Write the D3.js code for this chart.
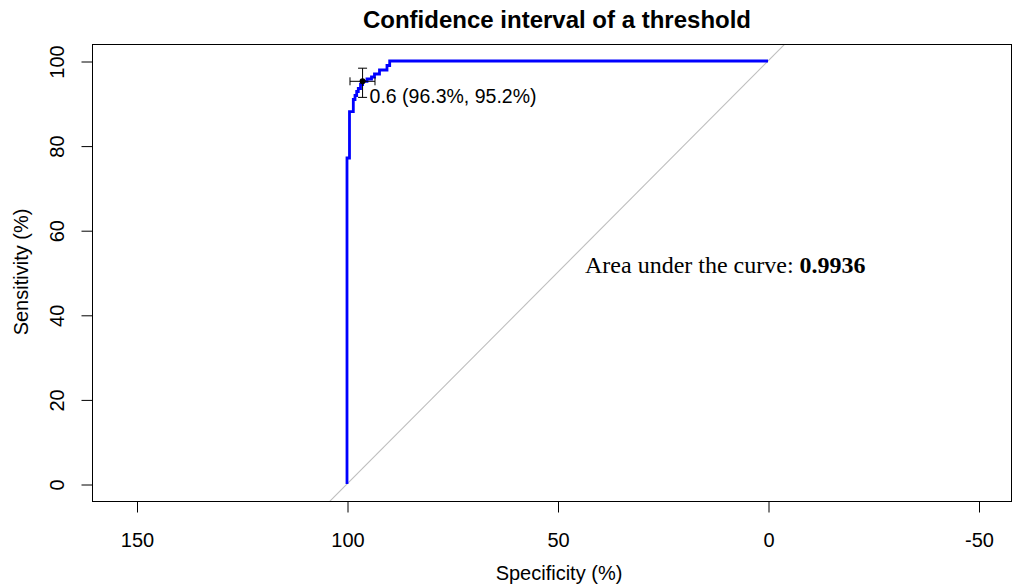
<!DOCTYPE html>
<html>
<head>
<meta charset="utf-8">
<script src="https://cdn.jsdelivr.net/npm/d3@7"></script>
<style>
  html, body { margin: 0; padding: 0; background: #fff; }
  svg { display: block; }
</style>
</head>
<body>
<div id="chart"></div>
<script>
// ---- Data ----
const specificity = [100, 100, 99.41, 99.41, 98.50, 98.50, 98.10, 98.10, 97.70, 97.70, 97.32, 97.32, 96.79, 96.79, 96.3, 96.3, 95.25, 95.25, 94.18, 94.18, 93.47, 93.47, 92.28, 92.28, 90.50, 90.50, 89.86, 89.86, 0];
const sensitivity = [0, 77.07, 77.07, 88.01, 88.01, 90.90, 90.90, 91.84, 91.84, 92.79, 92.79, 93.50, 93.50, 94.44, 94.44, 95.2, 95.2, 95.74, 95.74, 96.22, 96.22, 96.93, 96.93, 97.87, 97.87, 98.94, 98.94, 100, 100];
const thresholdSpec = 96.3;
const thresholdSens = 95.2;
const specCI = [93.35, 99.29];
const sensCI = [91.4, 98.3];
const thresholdLabel = "0.6 (96.3%, 95.2%)";
const xTicks = [150, 100, 50, 0, -50];
const yTicks = [0, 20, 40, 60, 80, 100];
const aucValue = "0.9936";
const titleText = "Confidence interval of a threshold";
const xLabel = "Specificity (%)";
const yLabel = "Sensitivity (%)";

// ---- Layout ----
const W = 1013, H = 585;
const box = { left: 92, right: 1012, top: 44, bottom: 501 };

const x = d3.scaleLinear().domain([100, 0]).range([347, 768]);
const y = d3.scaleLinear().domain([0, 100]).range([484, 61]);

const svg = d3.select("#chart").append("svg")
  .attr("width", W).attr("height", H)
  .style("font-family", "'Liberation Sans', Arial, sans-serif");

svg.append("defs").append("clipPath").attr("id", "clip")
  .append("rect")
  .attr("x", box.left).attr("y", box.top)
  .attr("width", box.right - box.left).attr("height", box.bottom - box.top);

// Diagonal reference line (spec + sens = 100)
const diag = [-20, 120];
svg.append("line")
  .attr("clip-path", "url(#clip)")
  .attr("x1", x(100 - diag[0])).attr("y1", y(diag[0]))
  .attr("x2", x(100 - diag[1])).attr("y2", y(diag[1]))
  .attr("stroke", "#bebebe").attr("stroke-width", 1.1);

// ROC curve
const pts = specificity.map((s, i) => [s, sensitivity[i]]);
svg.append("path")
  .datum(pts)
  .attr("clip-path", "url(#clip)")
  .attr("d", d3.line().x(d => x(d[0])).y(d => y(d[1])))
  .attr("fill", "none")
  .attr("stroke", "#0000ff")
  .attr("stroke-width", 2.8)
  .attr("stroke-linejoin", "miter");

// Threshold CI error bars
const eb = svg.append("g").attr("stroke", "#000").attr("stroke-width", 1).attr("fill", "none");
const px = x(thresholdSpec), py = y(thresholdSens);
eb.append("line").attr("x1", x(specCI[1])).attr("x2", x(specCI[0])).attr("y1", py).attr("y2", py);
eb.append("line").attr("x1", x(specCI[1])).attr("x2", x(specCI[1])).attr("y1", py - 4).attr("y2", py + 4);
eb.append("line").attr("x1", x(specCI[0])).attr("x2", x(specCI[0])).attr("y1", py - 4).attr("y2", py + 4);
eb.append("line").attr("x1", px).attr("x2", px).attr("y1", y(sensCI[0])).attr("y2", y(sensCI[1]));
eb.append("line").attr("x1", px - 4.5).attr("x2", px + 4.5).attr("y1", y(sensCI[0])).attr("y2", y(sensCI[0]));
eb.append("line").attr("x1", px - 4.5).attr("x2", px + 4.5).attr("y1", y(sensCI[1])).attr("y2", y(sensCI[1]));
svg.append("circle").attr("cx", px).attr("cy", py).attr("r", 3).attr("fill", "#000");

svg.append("text")
  .attr("x", px + 7).attr("y", py + 22)
  .attr("font-size", 19.5)
  .attr("fill", "#000")
  .text(thresholdLabel);

// Box
svg.append("rect")
  .attr("x", box.left + 0.5).attr("y", box.top + 0.5)
  .attr("width", box.right - box.left - 1).attr("height", box.bottom - box.top)
  .attr("fill", "none").attr("stroke", "#000").attr("stroke-width", 1);

// X axis
const fmt = d => String(d);
const xAxis = d3.axisBottom(x).tickValues(xTicks).tickSize(11).tickPadding(0).tickFormat(fmt);
const gx = svg.append("g").attr("transform", `translate(0.5,${box.bottom + 0.5})`).call(xAxis);
gx.select(".domain").attr("d", `M${x(xTicks[0])},0H${x(xTicks[xTicks.length - 1])}`).attr("stroke", "#000");
gx.selectAll(".tick line").attr("stroke", "#000");
gx.selectAll(".tick text")
  .attr("y", 0).attr("dy", null)
  .attr("transform", `translate(0,${546 - box.bottom})`)
  .attr("font-size", 20).attr("font-family", "'Liberation Sans', Arial, sans-serif").attr("fill", "#000");

// Y axis
const yAxis = d3.axisLeft(y).tickValues(yTicks).tickSize(11).tickFormat(fmt);
const gy = svg.append("g").attr("transform", `translate(${box.left + 0.5},0.5)`).call(yAxis);
gy.select(".domain").attr("d", `M0,${y(0)}V${y(100)}`).attr("stroke", "#000");
gy.selectAll(".tick line").attr("stroke", "#000");
gy.selectAll(".tick text")
  .attr("x", null).attr("dy", null)
  .attr("text-anchor", "middle")
  .attr("transform", `translate(${63.5 - box.left},0) rotate(-90)`)
  .attr("font-size", 20).attr("font-family", "'Liberation Sans', Arial, sans-serif").attr("fill", "#000");

// Axis titles
svg.append("text")
  .attr("x", 559).attr("y", 580)
  .attr("text-anchor", "middle").attr("font-size", 20).attr("fill", "#000")
  .text(xLabel);
svg.append("text")
  .attr("transform", `translate(28,272) rotate(-90)`)
  .attr("text-anchor", "middle").attr("font-size", 20).attr("fill", "#000")
  .text(yLabel);

// Title
svg.append("text")
  .attr("x", 557).attr("y", 28)
  .attr("text-anchor", "middle").attr("font-size", 24).attr("font-weight", "bold").attr("fill", "#000")
  .text(titleText);

// AUC annotation
const auc = svg.append("text")
  .attr("x", 585).attr("y", 273)
  .attr("font-family", "'Liberation Serif', 'Times New Roman', serif")
  .attr("font-size", 24).attr("fill", "#000");
auc.append("tspan").text("Area under the curve: ");
auc.append("tspan").attr("font-weight", "bold").text(aucValue);
</script>
</body>
</html>
